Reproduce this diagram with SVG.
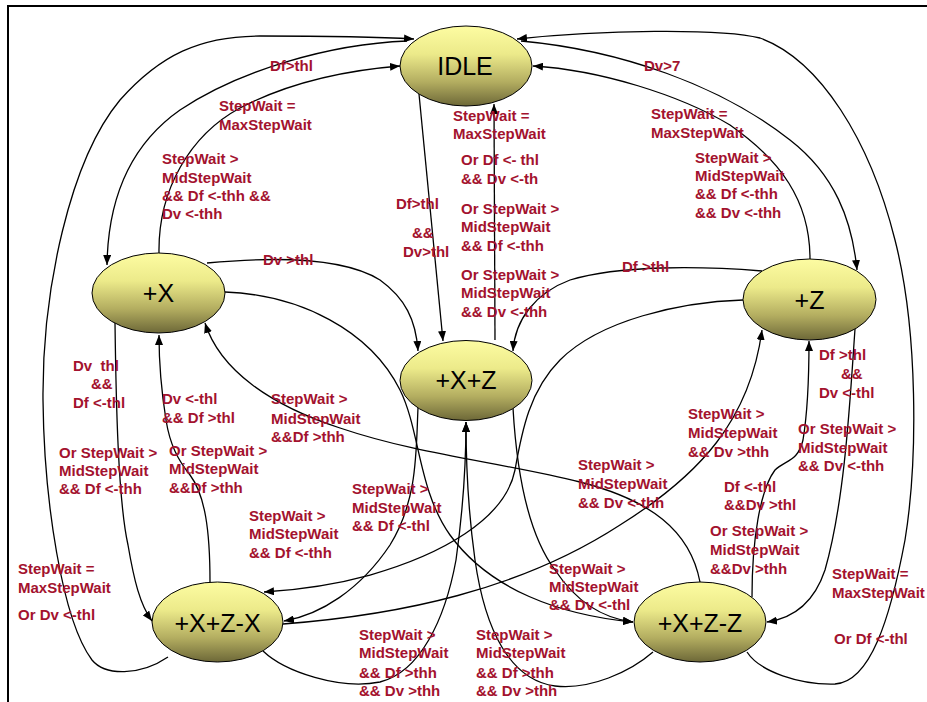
<svg xmlns="http://www.w3.org/2000/svg" width="927" height="702" viewBox="0 0 927 702">
  <defs>
    <linearGradient id="stateFill" x1="0" y1="0" x2="0" y2="1">
      <stop offset="0" stop-color="#fdfca2"/>
      <stop offset="0.35" stop-color="#ecea8a"/>
      <stop offset="0.7" stop-color="#b3ad60"/>
      <stop offset="1" stop-color="#6d6838"/>
    </linearGradient>
    <marker id="arrow" markerUnits="userSpaceOnUse" markerWidth="10" markerHeight="8" refX="10" refY="4" orient="auto">
      <path d="M0,0 L10,4 L0,8 z" fill="#000"/>
    </marker>
  </defs>
  <style>
    .frame { fill: none; stroke: #000; stroke-width: 2; }
    .edge { fill: none; stroke: #000; stroke-width: 1.3; marker-end: url(#arrow); }
    .lbl { font-family: "Liberation Sans", Arial, sans-serif; font-weight: bold; font-size: 15px; fill: #a3122e; }
    .node ellipse { fill: url(#stateFill); stroke: #000; stroke-width: 1; }
    .node text { font-family: "Liberation Sans", Arial, sans-serif; font-size: 25px; fill: #000; text-anchor: middle; }
  </style>

  <rect width="927" height="702" fill="#fff"/>
  <!-- outer frame: top and left rules only -->
  <path class="frame" d="M8,702 L8,6 L927,6"/>

  <g id="connectors">
    <!-- +X+Z-X back to IDLE, outer left loop -->
    <path class="edge" d="M168,657 C140,676 105,676 92,660 C62,620 44,500 43,400 C42,290 70,160 120,100 C160,55 200,36 260,36 C320,36 380,37 414,39"/>
    <!-- IDLE to +X -->
    <path class="edge" d="M407,41 C330,44 240,70 180,110 C130,145 108,200 107,265"/>
    <!-- +X back to IDLE -->
    <path class="edge" d="M159,253 C158,190 190,135 240,108 C290,82 350,70 400,66"/>
    <!-- +X+Z-Z back to IDLE, outer right loop -->
    <path class="edge" d="M747,652 C760,672 800,685 835,684 C870,682 890,620 905,540 C918,460 918,330 895,240 C870,140 820,60 760,38 C720,28 600,30 517,39"/>
    <!-- IDLE to +Z -->
    <path class="edge" d="M521,41 C620,50 720,85 790,140 C835,175 852,220 857,270"/>
    <!-- +Z back to IDLE -->
    <path class="edge" d="M810,259 C810,200 780,160 730,125 C680,95 600,70 533,66"/>
    <!-- IDLE to +X+Z -->
    <path class="edge" d="M419,94 L443,341"/>
    <!-- +X+Z back to IDLE -->
    <path class="edge" d="M495,340 L494,104"/>
    <!-- +X to +X+Z -->
    <path class="edge" d="M207,263 C260,258 340,255 380,280 C405,298 416,320 418,351"/>
    <!-- +Z to +X+Z -->
    <path class="edge" d="M762,271 C700,266 620,265 570,280 C535,293 515,320 513,351"/>
    <!-- +X+Z-X to +X -->
    <path class="edge" d="M210,582 C210,530 205,495 190,475 C178,460 170,445 166,420 C162,395 159,365 159,335"/>
    <!-- +X+Z-Z to +X, long sweep -->
    <path class="edge" d="M700,582 C690,530 650,500 580,482 C500,462 420,455 340,428 C270,405 220,370 205,323"/>
    <!-- +X+Z-Z to +Z -->
    <path class="edge" d="M752,597 C752,540 760,490 775,470 C785,460 798,462 803,440 C808,410 809,370 809,341"/>
    <!-- +Z to +X+Z-Z -->
    <path class="edge" d="M855,329 C850,400 845,500 825,570 C815,600 795,618 767,622"/>
    <!-- +X to +X+Z-X -->
    <path class="edge" d="M115,323 C116,400 118,500 128,545 C134,580 140,605 152,621"/>
    <!-- +X+Z-X to +X+Z, under the bottom -->
    <path class="edge" d="M263,651 C285,672 340,690 380,682 C420,672 445,620 456,560 C463,510 466,460 466,422"/>
    <!-- +X+Z-Z to +X+Z, under the bottom -->
    <path class="edge" d="M653,652 C630,672 590,690 555,686 C510,680 485,630 475,560 C468,510 466,460 466,422"/>
    <!-- +X to +X+Z-Z -->
    <path class="edge" d="M225,292 C300,295 370,330 400,390 C420,430 418,490 450,535 C490,590 560,615 633,622"/>
    <!-- +X+Z to +X+Z-X -->
    <path class="edge" d="M418,408 C416,450 418,500 390,545 C360,590 320,615 284,621"/>
    <!-- +X+Z to +X+Z-Z -->
    <path class="edge" d="M513,408 C516,460 525,530 555,570 C575,600 600,618 633,622"/>
    <!-- +Z to +X+Z-X -->
    <path class="edge" d="M743,300 C680,302 600,320 560,360 C530,390 522,430 515,470 C505,520 440,555 370,575 C330,586 295,590 264,592"/>
    <!-- +X+Z-X to +Z -->
    <path class="edge" d="M283,624 C400,615 520,590 620,525 C700,475 750,420 762,330"/>
  </g>

  <g id="labels" class="lbl">
    <text x="270" y="71">Df&gt;thl</text>
    <text><tspan x="219" y="111">StepWait =</tspan><tspan x="219" y="130">MaxStepWait</tspan></text>
    <text><tspan x="162" y="164">StepWait &gt;</tspan><tspan x="162" y="183">MidStepWait</tspan><tspan x="162" y="201">&amp;&amp; Df &lt;-thh &amp;&amp;</tspan><tspan x="162" y="219">Dv &lt;-thh</tspan></text>
    <text><tspan x="453" y="121">StepWait =</tspan><tspan x="453" y="139">MaxStepWait</tspan></text>
    <text><tspan x="461" y="165">Or Df &lt;- thl</tspan><tspan x="461" y="184">&amp;&amp; Dv &lt;-th</tspan></text>
    <text><tspan x="396" y="209">Df&gt;thl</tspan><tspan x="412" y="238">&amp;&amp;</tspan><tspan x="403" y="257">Dv&gt;thl</tspan></text>
    <text><tspan x="461" y="214">Or StepWait &gt;</tspan><tspan x="461" y="232">MidStepWait</tspan><tspan x="461" y="251">&amp;&amp; Df &lt;-thh</tspan></text>
    <text><tspan x="461" y="280">Or StepWait &gt;</tspan><tspan x="461" y="298">MidStepWait</tspan><tspan x="461" y="317">&amp;&amp; Dv &lt;-thh</tspan></text>
    <text x="644" y="71">Dv&gt;7</text>
    <text><tspan x="651" y="119">StepWait =</tspan><tspan x="651" y="138">MaxStepWait</tspan></text>
    <text><tspan x="695" y="163">StepWait &gt;</tspan><tspan x="695" y="181">MidStepWait</tspan><tspan x="695" y="199">&amp;&amp; Df &lt;-thh</tspan><tspan x="695" y="218">&amp;&amp; Dv &lt;-thh</tspan></text>
    <text x="263" y="265">Dv &gt;thl</text>
    <text x="622" y="272">Df &gt;thl</text>
    <text xml:space="preserve"><tspan x="73" y="371">Dv  thl</tspan><tspan x="91" y="389">&amp;&amp;</tspan><tspan x="73" y="408">Df &lt;-thl</tspan></text>
    <text><tspan x="162" y="404">Dv &lt;-thl</tspan><tspan x="162" y="423">&amp;&amp; Df &gt;thl</tspan></text>
    <text><tspan x="271" y="404">StepWait &gt;</tspan><tspan x="271" y="424">MidStepWait</tspan><tspan x="271" y="442">&amp;&amp;Df &gt;thh</tspan></text>
    <text><tspan x="59" y="458">Or StepWait &gt;</tspan><tspan x="59" y="476">MidStepWait</tspan><tspan x="59" y="494">&amp;&amp; Df &lt;-thh</tspan></text>
    <text><tspan x="169" y="456">Or StepWait &gt;</tspan><tspan x="169" y="474">MidStepWait</tspan><tspan x="169" y="493">&amp;&amp;Df &gt;thh</tspan></text>
    <text><tspan x="249" y="521">StepWait &gt;</tspan><tspan x="249" y="539">MidStepWait</tspan><tspan x="249" y="558">&amp;&amp; Df &lt;-thh</tspan></text>
    <text><tspan x="352" y="494">StepWait &gt;</tspan><tspan x="352" y="513">MidStepWait</tspan><tspan x="352" y="531">&amp;&amp; Df &lt;-thl</tspan></text>
    <text><tspan x="578" y="470">StepWait &gt;</tspan><tspan x="578" y="489">MidStepWait</tspan><tspan x="578" y="508">&amp;&amp; Dv &lt;-thh</tspan></text>
    <text><tspan x="688" y="419">StepWait &gt;</tspan><tspan x="688" y="438">MidStepWait</tspan><tspan x="688" y="457">&amp;&amp; Dv &gt;thh</tspan></text>
    <text><tspan x="819" y="360">Df &gt;thl</tspan><tspan x="841" y="379">&amp;&amp;</tspan><tspan x="819" y="398">Dv &lt;-thl</tspan></text>
    <text><tspan x="798" y="434">Or StepWait &gt;</tspan><tspan x="798" y="453">MidStepWait</tspan><tspan x="798" y="471">&amp;&amp; Dv &lt;-thh</tspan></text>
    <text><tspan x="724" y="492">Df &lt;-thl</tspan><tspan x="724" y="510">&amp;&amp;Dv &gt;thl</tspan></text>
    <text><tspan x="710" y="536">Or StepWait &gt;</tspan><tspan x="710" y="555">MidStepWait</tspan><tspan x="710" y="574">&amp;&amp;Dv &gt;thh</tspan></text>
    <text><tspan x="549" y="574">StepWait &gt;</tspan><tspan x="549" y="592">MidStepWait</tspan><tspan x="549" y="610">&amp;&amp; Dv &lt;-thl</tspan></text>
    <text><tspan x="18" y="574">StepWait =</tspan><tspan x="18" y="593">MaxStepWait</tspan><tspan x="18" y="620">Or Dv &lt;-thl</tspan></text>
    <text><tspan x="832" y="579">StepWait =</tspan><tspan x="832" y="598">MaxStepWait</tspan><tspan x="834" y="644">Or Df &lt;-thl</tspan></text>
    <text><tspan x="359" y="640">StepWait &gt;</tspan><tspan x="359" y="658">MidStepWait</tspan><tspan x="359" y="678">&amp;&amp; Df &gt;thh</tspan><tspan x="359" y="696">&amp;&amp; Dv &gt;thh</tspan></text>
    <text><tspan x="476" y="640">StepWait &gt;</tspan><tspan x="476" y="658">MidStepWait</tspan><tspan x="476" y="678">&amp;&amp; Df &gt;thh</tspan><tspan x="476" y="696">&amp;&amp; Dv &gt;thh</tspan></text>
  </g>

  <g id="idle" class="node">
    <ellipse cx="466" cy="66" rx="66" ry="40"/>
    <text x="465" y="75">IDLE</text>
  </g>
  <g id="plus-x" class="node">
    <ellipse cx="158.5" cy="293" rx="66.5" ry="40"/>
    <text x="158.5" y="302">+X</text>
  </g>
  <g id="plus-x-plus-z" class="node">
    <ellipse cx="466" cy="380.5" rx="66" ry="40"/>
    <text x="466" y="389">+X+Z</text>
  </g>
  <g id="plus-z" class="node">
    <ellipse cx="809.5" cy="299.5" rx="66.5" ry="40.5"/>
    <text x="809.5" y="309">+Z</text>
  </g>
  <g id="plus-x-plus-z-minus-x" class="node">
    <ellipse cx="217.5" cy="622" rx="65.5" ry="40"/>
    <text x="217.5" y="632">+X+Z-X</text>
  </g>
  <g id="plus-x-plus-z-minus-z" class="node">
    <ellipse cx="700" cy="622" rx="66" ry="40"/>
    <text x="700" y="632">+X+Z-Z</text>
  </g>
</svg>
